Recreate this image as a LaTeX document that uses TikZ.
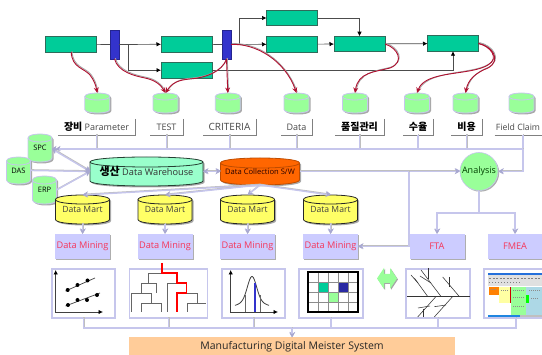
\documentclass[tikz,border=0pt]{standalone}
\usepackage{fontspec}
\setmainfont{Open Sans}
\newfontfamily\kr{Noto Sans CJK KR}
\usetikzlibrary{arrows.meta,shadows,calc}
\definecolor{proc}{HTML}{00CC99}
\definecolor{procl}{HTML}{2F6B5A}
\definecolor{barb}{HTML}{3333CC}
\definecolor{redc}{HTML}{B01030}
\definecolor{lav}{HTML}{C6C6EC}
\definecolor{lavd}{HTML}{A8A8D0}
\definecolor{mine}{HTML}{CCCCFF}
\definecolor{minet}{HTML}{F5365A}
\definecolor{lgreen}{HTML}{99FF99}
\definecolor{wh}{HTML}{99FFCC}
\definecolor{org}{HTML}{FF6600}
\definecolor{yel}{HTML}{FFFF66}
\definecolor{peach}{HTML}{FFCC99}
\definecolor{shotb}{HTML}{ADD8E6}
\tikzset{
  x=1pt,y=-1pt,
  sh/.style={drop shadow={shadow xshift=1.2pt,shadow yshift=-1.2pt,fill=black!45,opacity=.7}},
  procbox/.style={rectangle,draw=procl,line width=.8pt,fill=proc,inner sep=0,outer sep=0,minimum width=51pt,minimum height=15.5pt},
  barbox/.style={rectangle,draw=barb!70!black,line width=.5pt,fill=barb,inner sep=0,outer sep=0,minimum width=9pt,minimum height=29pt,sh},
  flow/.style={draw=black!70,line width=.7pt,-{Latex[length=4.5pt,width=4.5pt,black]}},
  flown/.style={draw=black!70,line width=.7pt},
  redl/.style={draw=redc,line width=.9pt,-{Stealth[length=5.5pt,width=5pt]},
     preaction={draw=black!35,line width=.9pt,-,transform canvas={shift={(.8pt,.8pt)}}}},
  lab/.style={rectangle,inner sep=0,outer sep=0,minimum height=16pt,font=\fontsize{9}{9}\selectfont,text=black!72},
  labline/.style={draw=black!50,line width=.8pt},
  conn/.style={draw=lav,line width=1.4pt,preaction={draw=black!25,line width=1.4pt,transform canvas={shift={(.5pt,.6pt)}}}},
  conna/.style={conn,-{Stealth[length=5pt,width=5.5pt,lavd]}},
  mining/.style={rectangle,fill=mine,inner sep=0,outer sep=0,minimum width=55pt,minimum height=25pt,text=minet,font=\fontsize{9.2}{9.2}\selectfont,sh},
  icon/.style={rectangle,draw=lav,line width=1.3pt,fill=white,inner sep=0,outer sep=0,minimum height=49pt},
  axis/.style={draw=black!75,line width=.8pt,{Latex[length=4.5pt,width=4.5pt,black]}-{Latex[length=4.5pt,width=4.5pt,black]}},
  tree/.style={draw=black!60,line width=.8pt},
  treer/.style={draw=red,line width=1.6pt},
  fish/.style={draw=black!80,line width=.55pt},
}
% name, cx, top, bottom, half width, ellipse ry, fill, line, font size; text in \cyltext
\newcommand{\cylnode}[9]{%
  \pgfmathsetmacro{\cl}{#2-#5}\pgfmathsetmacro{\cr}{#2+#5}%
  \pgfmathsetmacro{\cta}{#3+#6}\pgfmathsetmacro{\ctu}{#3-#6/3}\pgfmathsetmacro{\ctd}{#3+7*#6/3}%
  \pgfmathsetmacro{\cba}{#4-#6}\pgfmathsetmacro{\cbd}{#4+#6/3}%
  \fill[black!45,opacity=.75,shift={(1.5,1.5)}] (\cl,\cta) -- (\cl,\cba) .. controls (\cl,\cbd) and (\cr,\cbd) .. (\cr,\cba) -- (\cr,\cta) .. controls (\cr,\ctu) and (\cl,\ctu) .. (\cl,\cta) -- cycle;
  \path[fill=#7,draw=#8,line width=.8pt] (\cl,\cta) -- (\cl,\cba) .. controls (\cl,\cbd) and (\cr,\cbd) .. (\cr,\cba) -- (\cr,\cta) .. controls (\cr,\ctu) and (\cl,\ctu) .. (\cl,\cta) -- cycle;
  \draw[#8,line width=.8pt] (\cl,\cta) .. controls (\cl,\ctd) and (\cr,\ctd) .. (\cr,\cta);
  \node[rectangle,inner sep=0,outer sep=0,minimum width=2*#5 pt,minimum height={#4-#3 pt},font=\fontsize{#9}{#9}\selectfont] (#1) at (#2,{(#3+#4)/2}) {\cyltext};
}
\begin{document}
\begin{tikzpicture}
\useasboundingbox (0,0) rectangle (542,355);
% --- process row
\node[procbox] (a) at (71.2,44.2) {};
\node[barbox] (b1) at (114.5,44.5) {};
\node[procbox] (b) at (186.5,44.2) {};
\node[procbox] (c) at (186.5,70.2) {};
\node[barbox] (b2) at (226.5,44.5) {};
\node[procbox] (d) at (292,18) {};
\node[procbox] (e) at (292,44.2) {};
\node[procbox] (f) at (359.5,44) {};
\node[procbox] (g) at (453,43.5) {};
\coordinate (j1) at (128.5,44.2);
\coordinate (j2) at (239,44.2);
\draw[flown] (a) -- (b1);
\draw[flow] (b1) -- (b);
\draw[flow] (j1) |- (c);
\draw[flown] (b) -- (b2);
\draw[flow] (b2) -- (e);
\draw[flow] (j2) |- (d);
\draw[flow] (e) -- (f);
\draw[flow] (d) -| (f);
\draw[flow] (f) -- (g);
\draw[flow] (c) -| (g);
% --- small green cylinders
\def\cyltext{}
\cylnode{c1}{97.3}{93}{113}{12.5}{3.5}{lgreen}{lav}{8}
\cylnode{c2}{165.5}{93}{113}{12.5}{3.5}{lgreen}{lav}{8}
\cylnode{c3}{227.8}{93}{113}{12.5}{3.5}{lgreen}{lav}{8}
\cylnode{c4}{296.5}{93}{113}{12.5}{3.5}{lgreen}{lav}{8}
\cylnode{c5}{355}{93}{113}{12.5}{3.5}{lgreen}{lav}{8}
\cylnode{c6}{417}{93}{113}{12.5}{3.5}{lgreen}{lav}{8}
\cylnode{c7}{465.5}{93}{113}{12.5}{3.5}{lgreen}{lav}{8}
\cylnode{c8}{521.5}{93}{113}{12.5}{3.5}{lgreen}{lav}{8}
% --- red curves
\draw[redl] (a.south) .. controls (72,68) and (84,68) .. (90,75) .. controls (94,80) and (96,86) .. (c1.north);
\draw[redl] (b1.south) .. controls (118,72) and (135,76) .. (145,78) .. controls (155,80) and (161,85) .. (c2.north);
\draw[redl] (b2.south) .. controls (222,72) and (205,78) .. (190,79) .. controls (178,80) and (172,83) .. (c2.north);
\draw[redl] (b2.south) -- (c3.north);
\draw[redl] (b2.east) .. controls (255,43) and (285,60) .. (c4.north);
\draw[redl] (f.east) .. controls (398,48) and (405,62) .. (390,68) .. controls (375,72) and (358,72) .. (c5.north);
\draw[redl] (g.east) .. controls (490,46) and (500,58) .. (488,65) .. controls (470,76) and (425,70) .. (c6.north);
\draw[redl] (g.east) .. controls (492,46) and (502,60) .. (488,68) .. controls (475,73) and (468,80) .. (c7.north);
% --- labels
\node[lab,minimum width=77pt] (l1) at (96.5,127) {{\kr\bfseries\fontsize{10}{10}\selectfont\textcolor{black}{장비}} Parameter\hspace{4pt}};
\node[lab,minimum width=33pt] (l2) at (166.5,127) {TEST};
\node[lab,minimum width=53pt,font=\fontsize{10}{10}\selectfont] (l3) at (229.5,127) {CRITERIA};
\node[lab,minimum width=31pt] (l4) at (296.5,127) {Data};
\node[lab,minimum width=49pt] (l5) at (359.5,127) {{\kr\bfseries\fontsize{10}{10}\selectfont\textcolor{black}{품질관리}}};
\node[lab,minimum width=30pt] (l6) at (418,127) {{\kr\bfseries\fontsize{10}{10}\selectfont\textcolor{black}{수율}}};
\node[lab,minimum width=31pt] (l7) at (466.5,127) {{\kr\bfseries\fontsize{10}{10}\selectfont\textcolor{black}{비용}}};
\node[lab,minimum width=47pt,font=\fontsize{8.7}{8.7}\selectfont] (l8) at (518,127) {Field Claim};
\foreach \n in {l1,l2,l3,l4,l5,l6,l7}
  \draw[labline] (\n.north east) -- (\n.south east) -- (\n.south west);
\draw[labline] (l8.south west) -- (l8.south east);
% --- databases
\def\cyltext{SPC}
\cylnode{spc}{40}{134}{162}{12}{4}{lgreen}{lav}{7.5}
\def\cyltext{\raisebox{-1pt}{DAS}}
\cylnode{das}{18.5}{157}{184}{12}{4}{lgreen}{lav}{7.5}
\def\cyltext{ERP}
\cylnode{erp}{44.5}{176}{204}{12}{4}{lgreen}{lav}{7.5}
\def\cyltext{\raisebox{-1pt}{{\kr\bfseries\fontsize{11}{11}\selectfont 생산} \textcolor{black!80}{Data Warehouse}}}
\cylnode{dw}{146.5}{157}{186}{56.5}{5}{wh}{black!75!wh}{9.2}
\def\cyltext{\textcolor{black!85!red}{Data Collection S/W}}
\cylnode{dc}{260}{158}{185}{39.5}{5}{org}{org!75!black}{7.6}
\def\cyltext{\raisebox{-4pt}{\textcolor{black!75}{Data Mart}}}
\cylnode{dm1}{82.5}{195}{224}{27}{4.5}{yel}{black!85}{8.6}
\cylnode{dm2}{165}{195}{224}{27}{4.5}{yel}{black!85}{8.6}
\cylnode{dm3}{247.5}{195}{224}{27}{4.5}{yel}{black!85}{8.6}
\cylnode{dm4}{330.5}{195}{224}{27}{4.5}{yel}{black!85}{8.6}
% --- mining row
\node[mining] (m1) at (82.5,246.5) {Data Mining};
\node[mining] (m2) at (165,246.5) {Data Mining};
\node[mining] (m3) at (247.5,246.5) {Data Mining};
\node[mining] (m4) at (330.5,246.5) {Data Mining};
\node[mining] (fta) at (437,246.5) {FTA};
\node[mining] (fmea) at (515,246.5) {FMEA};
\node[circle,fill=lgreen,draw=lav,line width=.6pt,inner sep=0,minimum size=38pt,font=\fontsize{9}{9}\selectfont,text=black!75!green,sh] (ana) at (479,171.5) {Analysis};
% --- light connectors
\coordinate (busr) at (523,149);
\coordinate (fork) at (479,213);
\coordinate (mjoin) at (409,172);
\foreach \n in {l1,l2,l3,l4,l5,l6,l7} \draw[conn] (\n.south) -- (\n.south |- busr);
\draw[conn,-{Stealth[length=4pt,width=5pt,lavd]Stealth[length=4pt,width=5pt,lavd]}] (busr |- l8.south) -- (busr) -- (spc.east |- busr);
\draw[conna] (busr) |- (ana.east);
\draw[conna,{Stealth[length=5pt,width=5.5pt,lavd]}-{Stealth[length=5pt,width=5.5pt,lavd]}] (spc.east |- busr) -- (dw.west);
\draw[conna] (das.east) -- (dw.west);
\draw[conna] (erp.east) -- (dw.west);
\draw[conna,{Stealth[length=5pt,width=5.5pt,lavd]}-{Stealth[length=5pt,width=5.5pt,lavd]}] (dw.east) -- (dc.west);
\draw[conna] (dc.east) -- (ana.west);
\draw[conna] (mjoin) |- (m4.east);
\draw[conn] (ana.south) -- (fork);
\draw[conna] (fork) -| (fta.north);
\draw[conna] (fork) -| (fmea.north);
\foreach \t in {dm1,dm2,dm3,dm4} \draw[conna] (dc.south) -- (\t.north);
\draw[conna] (dm1) -- (m1);
\draw[conna] (dm2) -- (m2);
\draw[conna] (dm3) -- (m3);
\draw[conna] (dm4) -- (m4);
% --- icon frames
\node[icon,minimum width=63pt] (i1) at (83.5,293.5) {};
\node[icon,minimum width=78pt] (i2) at (168.5,293.5) {};
\node[icon,minimum width=63pt] (i3) at (253.5,293.5) {};
\node[icon,minimum width=64pt] (i4) at (331,293.5) {};
\node[icon,minimum width=64pt] (i5) at (438,293.5) {};
\node[icon,minimum width=64pt] (i6) at (516,293.5) {};
\node[rectangle,fill=peach,inner sep=0,outer sep=0,minimum width=326pt,minimum height=18pt,font=\fontsize{10.5}{10.5}\selectfont,text=black!85] (sys) at (292,346.5) {Manufacturing Digital Meister System};
\coordinate (busb) at (292,328);
\draw[conn] (i1.south) |- (i6.south |- busb) -- (i6.south);
\foreach \n in {i2,i3,i4,i5} \draw[conn] (\n.south) -- (\n.south |- busb);
\draw[conna] (busb) -- (sys.north);
% --- icon 1: scatter
\draw[axis] (55.7,270) -- (55.7,312) -- (103,312);
\draw[black!75,line width=.7pt] (65.5,291) -- (95,278);
\draw[black!75,line width=.7pt] (65.5,306) -- (100,293);
\foreach \p in {(67.7,290),(77.5,285),(87.5,280.5),(68,305),(77.5,300),(87,300),(97,295)} \fill[black] \p circle[radius=2];
% --- icon 2: tree
\draw[tree] (162,273) -- (148,273) -- (148,283);
\draw[tree] (141,293) -- (141,283) -- (156,283) -- (156,293);
\draw[tree] (131,312) -- (131,293) -- (151,293) -- (151,303);
\draw[tree] (141,312) -- (141,303) -- (161,303) -- (161,312);
\draw[tree] (167,312) -- (167,283) -- (177,283);
\draw[tree] (186.5,293) -- (197,293) -- (197,303);
\draw[tree] (187,312) -- (187,303) -- (206,303);
\draw[treer] (162,263) -- (162,273) -- (177,273) -- (177,283) -- (186.5,283) -- (186.5,293) -- (177,293) -- (177,312);
% --- icon 3: bell
\draw[axis] (230.7,270) -- (230.7,312) -- (278,312);
\draw[black!75,line width=.8pt] plot[domain=235:269,samples=60,smooth] (\x,{307.5-24*exp(-((\x-252)^2)/(2*4.5*4.5))-7*exp(-((\x-252)^2)/(2*11*11))});
\draw[black!60,line width=.6pt] (245,312) -- (245,295);
\draw[black!60,line width=.6pt] (260,312) -- (260,295);
\draw[barb,line width=1.8pt] (255,312) -- (255,283);
% --- icon 4: grid
\fill[proc] (318,282) rectangle (328,292);
\fill[barb!80!black] (338,282) rectangle (348,292);
\fill[lgreen] (328,292) rectangle (338,302);
\draw[black!45,line width=.6pt] (318,272) -- (318,312) (328,272) -- (328,312) (338,272) -- (338,312) (348,272) -- (348,312) (308,282) -- (358,282) (308,292) -- (358,292) (308,302) -- (358,302);
\draw[black,line width=1.5pt] (308,272) rectangle (358,312);
% --- double arrow
\fill[black!35,shift={(1,1)}] (377,278.5) -- (384,268) -- (384,274) -- (390,274) -- (390,268) -- (397,278.5) -- (390,289) -- (390,283) -- (384,283) -- (384,289) -- cycle;
\fill[lgreen] (377,278.5) -- (384,268) -- (384,274) -- (390,274) -- (390,268) -- (397,278.5) -- (390,289) -- (390,283) -- (384,283) -- (384,289) -- cycle;
% --- icon 5: fishbone
\draw[fish] (407,296.5) -- (470,296.5);
\draw[fish] (414.3,278) -- (427.7,296.5);
\draw[fish] (421,270) -- (441,296.5);
\draw[fish] (442.7,277) -- (459.3,296.5);
\draw[fish] (428,268) -- (428,279);
\draw[fish] (420,276) -- (431,283);
\draw[fish] (449.3,277) -- (449.3,287);
\draw[fish] (411,275) -- (418,283);
\draw[fish] (436,296.5) -- (417.7,317);
\draw[fish] (452.7,296.5) -- (434.3,317);
\draw[fish] (418,308) -- (430,306);
\draw[fish] (423,309) -- (423,317);
\draw[fish] (434.3,306.7) -- (446,305);
% --- icon 6: screenshot
\begin{scope}
\clip (488,273) rectangle (542,317);
\fill[white] (488,273) rectangle (545,317);
\fill[barb!70!cyan] (488,273) rectangle (545,275.5);
\fill[black!12] (488,275.5) rectangle (545,286);
\draw[black!50,line width=.8pt,dash pattern=on 2pt off 1.5pt] (489,278) -- (542,278);
\draw[black!50,line width=.8pt,dash pattern=on 1pt off 2pt] (489,282) -- (520,282);
\fill[orange] (489,287) rectangle (499,295);
\fill[yel!60] (499,287) rectangle (510,303);
\fill[red!80!black] (509.5,287) rectangle (511,303);
\fill[lgreen] (511,287) rectangle (526,315);
\fill[shotb] (526,287) rectangle (545,315);
\fill[green] (526,295) rectangle (529,303);
\fill[black!25] (488,315) rectangle (545,317);
\fill[barb!60!cyan] (488,315.5) rectangle (520,317);
\draw[black!45,line width=.5pt,dash pattern=on 1pt off 1pt] (491,289.5) -- (497,289.5) (501,290) -- (508,290) (513,290) -- (524,290) (529,290) -- (540,290) (513,297) -- (524,297) (513,306) -- (524,306) (531,298) -- (538,298);
\end{scope}
\end{tikzpicture}
\end{document}
